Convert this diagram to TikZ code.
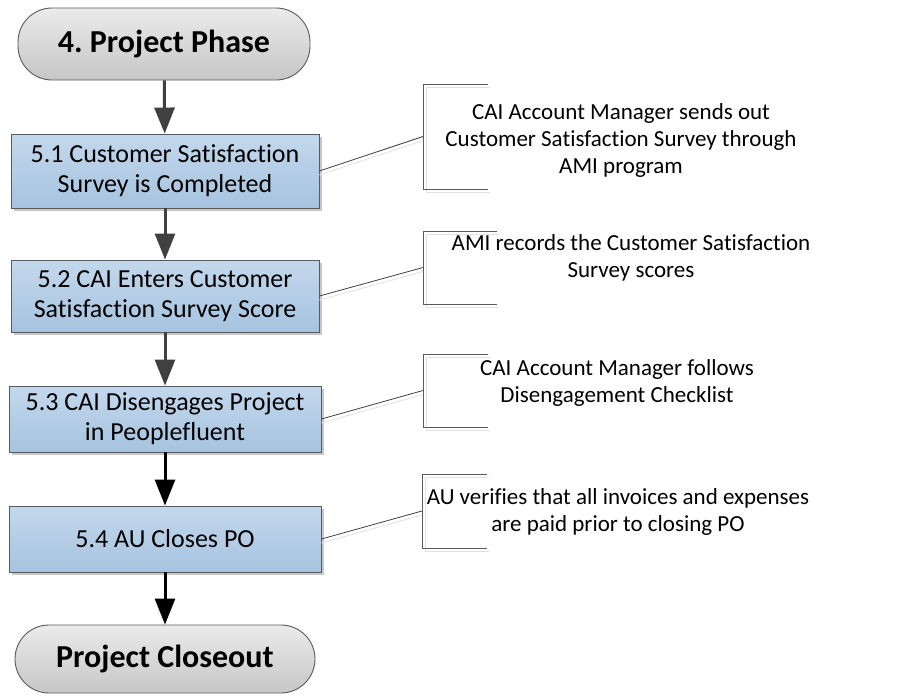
\documentclass[tikz,border=0pt]{standalone}
\usepackage{fontspec}
\setmainfont[Ligatures=NoCommon]{Carlito}
\frenchspacing
\usetikzlibrary{arrows.meta,shadows}
\definecolor{boxtop}{HTML}{C3D8EC}
\definecolor{boxbot}{HTML}{A6C3DF}
\definecolor{termtop}{HTML}{EBEBEB}
\definecolor{termbot}{HTML}{C6C6C6}
\definecolor{edge}{HTML}{5A5A5A}
\definecolor{arrowdark}{HTML}{404040}
\tikzset{
  termbox/.style={draw=edge, line width=0.9pt, top color=termtop, bottom color=termbot,
    rounded corners=34pt, inner sep=0pt, align=center,
    font=\fontsize{32}{36}\selectfont\bfseries},
  stepbox/.style={draw=edge, line width=0.9pt, top color=boxtop, bottom color=boxbot,
    inner sep=0pt, align=center, font=\fontsize{26}{30}\selectfont,
    drop shadow={shadow xshift=3pt, shadow yshift=-3pt, fill=black!22, opacity=1}},
  flowarrow/.style={line width=3pt, draw=arrowdark,
    -{Triangle[width=20pt,length=26pt,fill=arrowdark]}},
  flowarrowblack/.style={line width=3pt, draw=black,
    -{Triangle[width=20pt,length=26pt,fill=black]}},
  notetext/.style={align=center, inner sep=0pt, font=\fontsize{23}{27}\selectfont},
  bracketline/.style={draw=edge, line width=1pt},
  bracketshade/.style={draw=black!12, line width=1pt},
  leader/.style={draw=arrowdark, line width=0.8pt},
  leadershade/.style={draw=black!10, line width=1pt},
}
\begin{document}
\begin{tikzpicture}[x=1pt,y=-1pt]
\useasboundingbox (0,0) rectangle (906,696);

% process column
\node[termbox, minimum width=292pt, minimum height=72pt] (start) at (164,44) {4. Project Phase};
\node[stepbox, minimum width=308pt, minimum height=74pt] (s1) at (165,171)
  {5.1 Customer Satisfaction\\Survey is Completed};
\node[stepbox, minimum width=308pt, minimum height=72pt] (s2) at (165,296)
  {5.2 CAI Enters Customer\\Satisfaction Survey Score};
\node[stepbox, minimum width=312pt, minimum height=66pt] (s3) at (165,419)
  {5.3 CAI Disengages Project\\in Peoplefluent};
\node[stepbox, minimum width=312pt, minimum height=66pt] (s4) at (165,539)
  {5.4 AU Closes PO};
\node[termbox, minimum width=300pt, minimum height=68pt] (stop) at (165,659) {Project Closeout};

\draw[flowarrow] (start) -- (s1);
\draw[flowarrow] (s1) -- (s2);
\draw[flowarrow] (s2) -- (s3);
\draw[flowarrowblack] (s3) -- (s4);
\draw[flowarrowblack] (s4) -- (stop);

% annotation brackets
\coordinate (b1) at (423,136.5);
\coordinate (b2) at (423,267.5);
\coordinate (b3) at (423,390.5);
\coordinate (b4) at (422,511);

\draw[bracketshade] (490,87) -- (426,87) -- (426,192) -- (490,192);
\draw[bracketline] (488,84) -- (423,84) -- (423,189) -- (488,189);
\draw[bracketshade] (499,234) -- (426,234) -- (426,307) -- (499,307);
\draw[bracketline] (497,231) -- (423,231) -- (423,304) -- (497,304);
\draw[bracketshade] (490,357) -- (426,357) -- (426,430) -- (490,430);
\draw[bracketline] (488,354) -- (423,354) -- (423,427) -- (488,427);
\draw[bracketshade] (489,477) -- (425,477) -- (425,551) -- (489,551);
\draw[bracketline] (487,474) -- (422,474) -- (422,548) -- (487,548);

% leaders from steps to brackets
\draw[leadershade] ([yshift=-4pt]s1.east) -- ([yshift=-4pt]b1);
\draw[leader] (s1.east) -- (b1);
\draw[leadershade] ([yshift=-4pt]s2.east) -- ([yshift=-4pt]b2);
\draw[leader] (s2.east) -- (b2);
\draw[leadershade] ([yshift=-4pt]s3.east) -- ([yshift=-4pt]b3);
\draw[leader] (s3.east) -- (b3);
\draw[leadershade] ([yshift=-4pt]s4.east) -- ([yshift=-4pt]b4);
\draw[leader] (s4.east) -- (b4);

% annotation texts
\node[notetext] (n1) at (621,140)
  {CAI Account Manager sends out\\Customer Satisfaction Survey through\\AMI program};
\node[notetext] (n2) at (631,258)
  {AMI records the Customer Satisfaction\\Survey scores};
\node[notetext] (n3) at (617,383)
  {CAI Account Manager follows\\Disengagement Checklist};
\node[notetext] (n4) at (618,512)
  {AU verifies that all invoices and expenses\\are paid prior to closing PO};
\end{tikzpicture}
\end{document}
